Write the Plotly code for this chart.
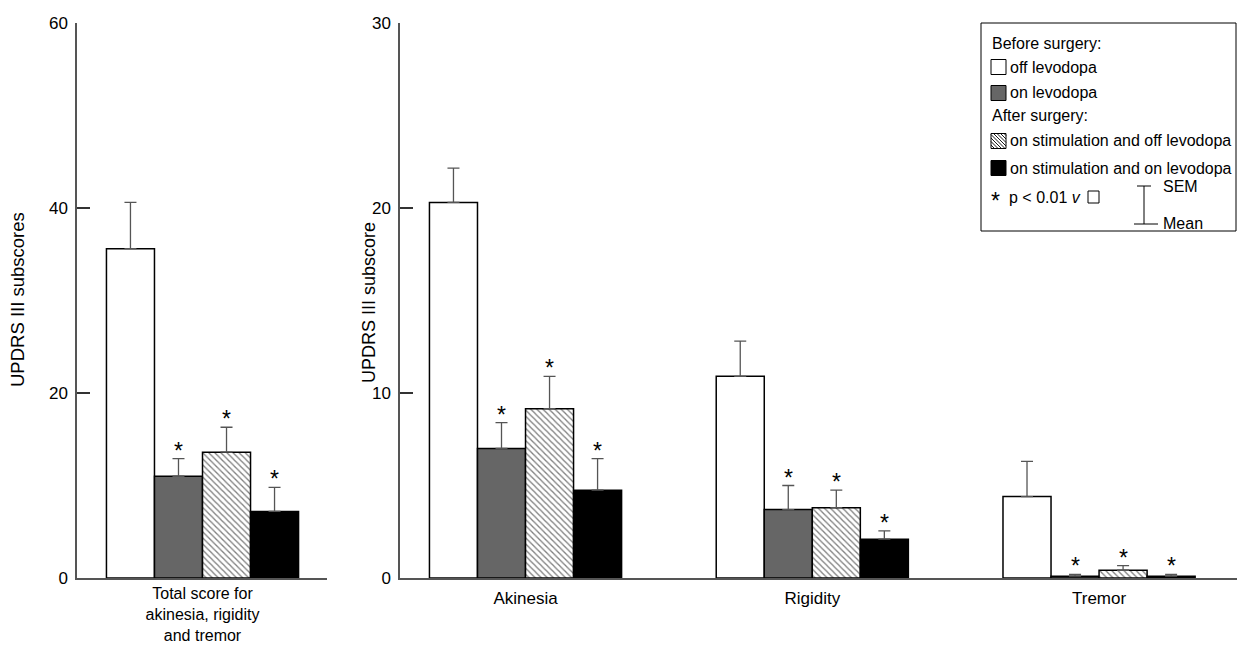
import plotly.graph_objects as go

# ---------------- data ----------------
total_label = ["Total score for<br>akinesia, rigidity<br>and tremor"]
sub_labels = ["Akinesia", "Rigidity", "Tremor"]
series_names = ["off levodopa", "on levodopa",
                "on stimulation and off levodopa", "on stimulation and on levodopa"]

# Left panel: total score (mean, SEM) per series
total_mean = [35.6, 11.0, 13.6, 7.2]
total_sem = [5.0, 1.9, 2.7, 2.6]
total_sig = [False, True, True, True]

# Right panel: subscores per series (Akinesia, Rigidity, Tremor)
off_levo_mean = [20.3, 10.9, 4.4]
off_levo_sem = [1.85, 1.9, 1.9]
on_levo_mean = [7.0, 3.7, 0.1]
on_levo_sem = [1.4, 1.3, 0.1]
stim_off_mean = [9.15, 3.8, 0.42]
stim_off_sem = [1.75, 0.95, 0.25]
stim_on_mean = [4.75, 2.1, 0.1]
stim_on_sem = [1.7, 0.45, 0.1]
sub_sig = [[False, False, False], [True, True, True], [True, True, True], [True, True, True]]

y1_ticks = [0, 20, 40, 60]
y2_ticks = [0, 10, 20, 30]

# ---------------- styles ----------------
W, H = 1237, 647
FONT = "Liberation Sans, Arial, Helvetica, sans-serif"
fills = ["white", "#666666", "white", "black"]
patterns = ["", "", "\\", ""]
BW = 0.1675  # bar width in category units

def px(x):
    return x / W

def py(y):
    return 1 - y / H

fig = go.Figure()
annos = []

sub_means = [off_levo_mean, on_levo_mean, stim_off_mean, stim_on_mean]
sub_sems = [off_levo_sem, on_levo_sem, stim_off_sem, stim_on_sem]

def add_series(i, xs, means, sems, sig, xa, ya):
    fig.add_trace(go.Bar(
        x=xs, y=means, width=BW, xaxis=xa, yaxis=ya, name=series_names[i],
        showlegend=False,
        marker=dict(color=fills[i], line=dict(color="black", width=1.5),
                    pattern=dict(shape=patterns[i], fgcolor="black", bgcolor="white",
                                 size=4.3, solidity=0.3)),
        error_y=dict(type="data", symmetric=False, array=sems,
                     arrayminus=[0] * len(sems), color="#555555", thickness=1.3, width=6),
    ))
    for x, m, s, f in zip(xs, means, sems, sig):
        if f:
            annos.append(dict(xref=xa, yref=ya, x=x, y=m + s, text="*", showarrow=False,
                              xanchor="center", yanchor="middle", yshift=8,
                              font=dict(size=23, color="black", family=FONT)))

for i in range(4):
    off = (i - 1.5) * BW
    add_series(i, [0 + off], [total_mean[i]], [total_sem[i]], [total_sig[i]], "x", "y")
    add_series(i, [c + off for c in range(len(sub_labels))], sub_means[i], sub_sems[i],
               sub_sig[i], "x2", "y2")

ydom = [py(578), py(23)]
axis_common = dict(showgrid=False, zeroline=False, showline=True, linecolor="#555555",
                   linewidth=1.5, automargin=False)
tick17 = dict(size=17, color="black", family=FONT)

fig.update_layout(
    width=W, height=H, margin=dict(l=0, r=0, t=0, b=0),
    plot_bgcolor="white", paper_bgcolor="white",
    font=dict(family=FONT, color="black"),
    barmode="overlay",
    xaxis=dict(domain=[px(77), px(327)], range=[-0.4377, 0.4342], tickmode="array",
               tickvals=[0], ticktext=total_label, ticks="", anchor="y",
               ticklabelstandoff=0, tickfont=dict(size=16, color="black", family=FONT),
               **axis_common),
    yaxis=dict(domain=ydom, range=[0, 60], tickmode="array", tickvals=y1_ticks,
               ticks="inside", ticklen=13, tickwidth=1.5, tickcolor="#333333", anchor="x",
               ticklabelstandoff=4, tickfont=tick17, **axis_common),
    xaxis2=dict(domain=[px(400), 1.0], range=[-0.4377, 2.481], tickmode="array",
                tickvals=list(range(len(sub_labels))), ticktext=sub_labels, ticks="",
                anchor="y2", ticklabelstandoff=4, tickfont=tick17, **axis_common),
    yaxis2=dict(domain=ydom, range=[0, 30], tickmode="array", tickvals=y2_ticks,
                ticks="inside", ticklen=13, tickwidth=1.5, tickcolor="#333333", anchor="x2",
                ticklabelstandoff=4, tickfont=tick17, **axis_common),
)

# axis titles
annos.append(dict(xref="paper", yref="paper", x=px(18), y=py(300), text="UPDRS III subscores",
                  textangle=-90, showarrow=False, xanchor="center", yanchor="middle",
                  font=dict(size=18.5, color="black", family=FONT)))
annos.append(dict(xref="paper", yref="paper", x=px(369), y=py(303), text="UPDRS III subscore",
                  textangle=-90, showarrow=False, xanchor="center", yanchor="middle",
                  font=dict(size=18, color="black", family=FONT)))

# ---------------- legend (drawn manually) ----------------
shapes = []
LF = 16
shapes.append(dict(type="rect", xref="paper", yref="paper", x0=px(981), x1=px(1236),
                   y0=py(231), y1=py(23), line=dict(color="black", width=1), fillcolor="white",
                   layer="above"))

def legend_text(x, y, text, size=LF):
    annos.append(dict(xref="paper", yref="paper", x=px(x), y=py(y), text=text,
                      showarrow=False, xanchor="left", yanchor="middle",
                      font=dict(size=size, color="black", family=FONT)))

def swatch(y, fill, hatch=False):
    x0, x1, y0, y1 = 991, 1006, y - 7.5, y + 7.5
    shapes.append(dict(type="rect", xref="paper", yref="paper", x0=px(x0), x1=px(x1),
                       y0=py(y1), y1=py(y0), fillcolor=fill,
                       line=dict(color="black", width=1), layer="above"))
    if hatch:
        segs = []
        step = 3.5
        c = -(y1 - y0) + step
        while c < (x1 - x0):
            xa, ya = x0 + max(c, 0), y0 + max(-c, 0)
            xb = min(x1, x0 + c + (y1 - y0))
            yb = y0 + (xb - x0) - c
            segs.append(f"M{px(xa)},{py(ya)} L{px(xb)},{py(yb)}")
            c += step
        shapes.append(dict(type="path", xref="paper", yref="paper", path=" ".join(segs),
                           line=dict(color="black", width=0.9), layer="above"))

legend_text(990, 43, "Before surgery:")
swatch(67, "white"); legend_text(1008, 67, series_names[0])
swatch(93, "#666666"); legend_text(1008, 93, series_names[1])
legend_text(990, 116, "After surgery:")
swatch(141, "white", hatch=True); legend_text(1008, 141, series_names[2])
swatch(168, "black"); legend_text(1008, 168, series_names[3])
legend_text(989, 201, "*", size=23)
legend_text(1007, 197, "p &lt; 0.01 <i>v</i>")
shapes.append(dict(type="rect", xref="paper", yref="paper", x0=px(1088), x1=px(1099),
                   y0=py(203), y1=py(191), fillcolor="white",
                   line=dict(color="black", width=1), layer="above"))
# SEM / Mean key
shapes.append(dict(type="line", xref="paper", yref="paper", x0=px(1144), x1=px(1144),
                   y0=py(186), y1=py(224), line=dict(color="black", width=1), layer="above"))
shapes.append(dict(type="line", xref="paper", yref="paper", x0=px(1137), x1=px(1151),
                   y0=py(186), y1=py(186), line=dict(color="black", width=1), layer="above"))
shapes.append(dict(type="line", xref="paper", yref="paper", x0=px(1134), x1=px(1158),
                   y0=py(224), y1=py(224), line=dict(color="black", width=1), layer="above"))
legend_text(1161, 187, "SEM")
legend_text(1161, 223, "Mean")

fig.update_layout(shapes=shapes, annotations=annos)
fig.write_html("out.html", config={"displayModeBar": False},
               post_script="document.body.style.margin='0px';")
